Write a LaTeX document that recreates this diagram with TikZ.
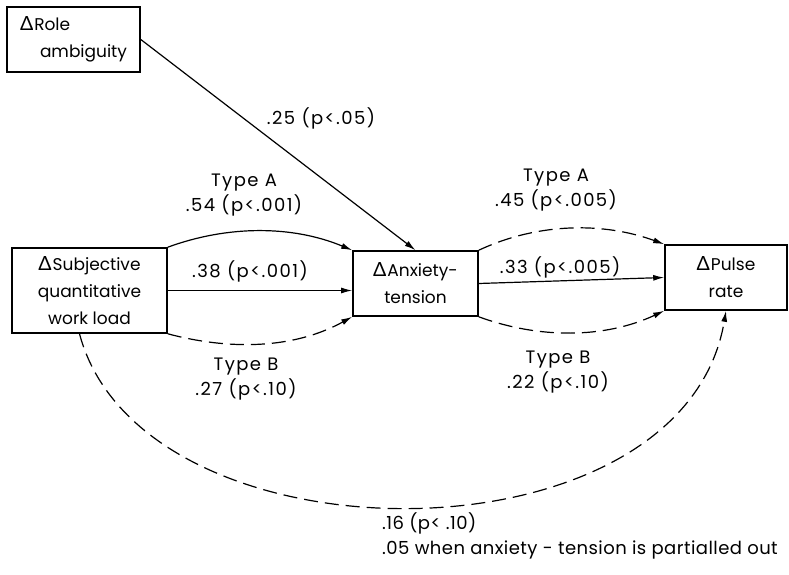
\documentclass[tikz,border=0pt]{standalone}
\usepackage{fontspec}
\setmainfont{Poppins}
\newfontfamily\greekfont[Scale=1.15]{Lato}
\newfontfamily\coeffont[LetterSpace=8]{Poppins}
\newfontfamily\notefont[LetterSpace=2.5]{Poppins}
\usetikzlibrary{arrows.meta}
\newcommand\dlt{{\greekfont Δ}\hspace{1pt}}

\begin{document}
\begin{tikzpicture}[x=1pt,y=1pt,
  varbox/.style={draw, line width=1.6pt, inner sep=0pt, align=center,
    font=\fontsize{17}{27}\selectfont},
  lbl/.style={inner sep=0pt, align=center, font=\coeffont\fontsize{18}{25}\selectfont},
  link/.style={line width=1.2pt, -{Latex[length=11pt,width=6pt]}},
  dashlink/.style={link, dash pattern=on 14pt off 7pt}]

\useasboundingbox (0,0) rectangle (789,574);

% variables
\node[varbox, align=left, minimum width=133, minimum height=65] (role) at (73.5,534.5)
  {\dlt Role\\\hspace*{20pt}ambiguity};
\node[varbox, minimum width=155, minimum height=85] (subj) at (89.5,283.5)
  {\dlt Subjective\\quantitative\\work load};
\node[varbox, minimum width=125, minimum height=65] (anx) at (415.5,290.5)
  {\dlt Anxiety-\\tension};
\node[varbox, minimum width=122, minimum height=65] (pulse) at (726,296.5)
  {\dlt Pulse\\rate};

% paths into anxiety-tension
\draw[link] (role.east) -- (anx.north);
\draw[link] (subj.north east) .. controls +(60,22) and +(-60,25) .. (anx.north west);
\draw[link] (subj.east) -- (subj.east -| anx.west);
\draw[dashlink] (subj.south east) .. controls +(60,-16) and +(-60,-33) .. (anx.south west);

% paths into pulse rate
\draw[dashlink] (anx.north east) .. controls +(60,28) and +(-60,22) .. (pulse.north west);
\draw[link] (anx.east) -- (pulse.west);
\draw[dashlink] (anx.south east) .. controls +(60,-22) and +(-60,-28) .. (pulse.south west);
\draw[dashlink] ([xshift=-10pt]subj.south) .. controls (142,5) and (683,5) .. (pulse.south);

% coefficients
\node[lbl] (cRole) at (321,456) {.25 (p<.05)};
\node[lbl] (cSubA) at (244,378.5) {Type A\\.54 (p<.001)};
\node[lbl] (cSub) at (250,303) {.38 (p<.001)};
\node[lbl] (cSubB) at (246,195) {Type B\\.27 (p<.10)};
\node[lbl] (cAnxA) at (556,383.5) {Type A\\.45 (p<.005)};
\node[lbl] (cAnx) at (560,307) {.33 (p<.005)};
\node[lbl] (cAnxB) at (558,201.5) {Type B\\.22 (p<.10)};
\node[lbl, anchor=west, align=left, font=\notefont\fontsize{18}{25}\selectfont] (cDirect) at (382,38)
  {.16 (p< .10)\\.05 when anxiety - tension is partialled out};
\end{tikzpicture}
\end{document}
